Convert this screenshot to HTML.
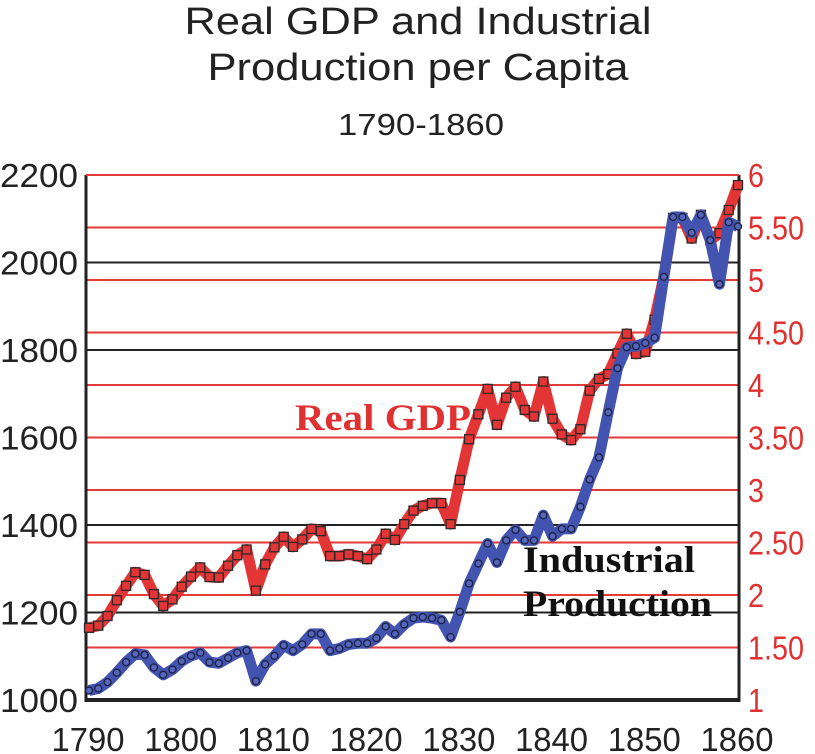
<!DOCTYPE html>
<html><head><meta charset="utf-8"><style>
html,body{margin:0;padding:0;background:#fff;}
svg{display:block;}
</style></head><body>
<svg id="chart" width="815" height="754" viewBox="0 0 815 754" xmlns="http://www.w3.org/2000/svg" font-family="Liberation Sans, sans-serif">
<text x="418" y="34" font-size="38" text-anchor="middle" textLength="467" lengthAdjust="spacingAndGlyphs" fill="#222">Real GDP and Industrial</text>
<text x="418" y="80" font-size="38" text-anchor="middle" textLength="421" lengthAdjust="spacingAndGlyphs" fill="#222">Production per Capita</text>
<text x="421" y="135" font-size="31" text-anchor="middle" textLength="166" lengthAdjust="spacingAndGlyphs" fill="#222">1790-1860</text>
<g id="grid"></g>
<g id="axes"></g>
<g id="series"></g>
<text x="295" y="430" font-family="Liberation Serif, serif" font-weight="bold" font-size="37" fill="#e03030" textLength="176" lengthAdjust="spacingAndGlyphs">Real GDP</text>
<text x="523" y="572" font-family="Liberation Serif, serif" font-weight="bold" font-size="37" fill="#111" textLength="172" lengthAdjust="spacingAndGlyphs">Industrial</text>
<text x="523" y="616" font-family="Liberation Serif, serif" font-weight="bold" font-size="37" fill="#111" textLength="189" lengthAdjust="spacingAndGlyphs">Production</text>
</svg>
<script>
const years = [];
for (let y = 1790; y <= 1860; y++) years.push(y);
const gdpValues = [1165,1170,1192,1228,1261,1292,1286,1242,1215,1230,
1259,1282,1303,1281,1280,1307,1331,1344,1250,1310,
1349,1373,1350,1367,1391,1386,1329,1329,1333,1329,
1322,1344,1380,1366,1402,1433,1444,1450,1450,1402,
1503,1596,1653,1711,1629,1691,1716,1663,1648,1728,
1643,1607,1594,1619,1707,1734,1745,1792,1837,1791,
1796,1869,1968,2102,2102,2055,2109,2051,2067,2120,2177];
const ipValues = [1.09,1.11,1.17,1.26,1.36,1.44,1.43,1.31,1.24,1.29,
1.37,1.42,1.45,1.36,1.35,1.40,1.45,1.47,1.18,1.34,
1.42,1.52,1.47,1.53,1.63,1.63,1.47,1.49,1.53,1.54,
1.54,1.59,1.70,1.63,1.72,1.78,1.79,1.78,1.76,1.60,
1.84,2.11,2.30,2.49,2.31,2.52,2.62,2.52,2.52,2.76,
2.56,2.63,2.63,2.84,3.10,3.31,3.74,4.16,4.36,4.37,
4.40,4.45,5.03,5.60,5.60,5.45,5.62,5.38,4.96,5.55,5.51];
const leftTicks = [1000,1200,1400,1600,1800,2000,2200];
const rightTicks = [1,1.5,2,2.5,3,3.5,4,4.5,5,5.5,6];
const rightTickLabels = ["1","1.50","2","2.50","3","3.50","4","4.50","5","5.50","6"];
const xTicks = [1790,1800,1810,1820,1830,1840,1850,1860];

const NS = "http://www.w3.org/2000/svg";
const X0 = 86, X1 = 739, Y0 = 700, Y1 = 175;
function xs(yr){ return 89 + (yr - 1790) * (738 - 89) / 70; }
function yL(v){ return Y0 - (v - 1000) / 1200 * (Y0 - Y1); }
function yR(v){ return Y0 - (v - 1) / 5 * (Y0 - Y1); }
function mk(tag, attrs, parent){
  const e = document.createElementNS(NS, tag);
  for (const k in attrs) e.setAttribute(k, attrs[k]);
  parent.appendChild(e); return e;
}
const grid = document.getElementById('grid');
const axes = document.getElementById('axes');
const series = document.getElementById('series');

leftTicks.forEach(v => {
  if (v === 1000 || v === 2200) return;
  const l = mk('line', {x1:X0, x2:X1, y1:yL(v), y2:yL(v), stroke:'#222', 'stroke-width':2}, grid);
  
  
});
rightTicks.forEach(v => {
  if (v === 1) return;
  const l = mk('line', {x1:X0, x2:X1, y1:yR(v), y2:yR(v), stroke:'#e33a3a', 'stroke-width':2}, grid);
  
  
});
leftTicks.forEach(v => {
  const t = mk('text', {x:39, y:yL(v)+12, 'font-size':33, 'text-anchor':'middle', textLength:78, lengthAdjust:'spacingAndGlyphs', fill:'#222'}, axes);
  t.textContent = v;
  
  
});
rightTicks.forEach((v, i) => {
  const lbl = rightTickLabels[i];
  const t = mk('text', {x:748, y:yR(v)+12, 'font-size':33, fill:'#e03030'}, axes);
  if (lbl.length > 1) { t.setAttribute('textLength', 56); t.setAttribute('lengthAdjust', 'spacingAndGlyphs'); }
  else { t.setAttribute('textLength', 16); t.setAttribute('lengthAdjust', 'spacingAndGlyphs'); }
  t.textContent = lbl;
  
  
});
xTicks.forEach(v => {
  const t = mk('text', {x:xs(v)-1, y:751, 'font-size':33, 'text-anchor':'middle', textLength:73, lengthAdjust:'spacingAndGlyphs', fill:'#222'}, axes);
  t.textContent = v;
  
  
});
let a = mk('line', {x1:X0, x2:X0, y1:Y1, y2:Y0+2, stroke:'#222', 'stroke-width':3}, axes);
 
a = mk('line', {x1:X1, x2:X1, y1:Y1, y2:Y0+2, stroke:'#222', 'stroke-width':3}, axes);
 
a = mk('line', {x1:X0, x2:X1, y1:Y0, y2:Y0, stroke:'#222', 'stroke-width':4}, axes);
 
a = mk('line', {x1:X0, x2:X1, y1:Y1, y2:Y1, stroke:'#e33a3a', 'stroke-width':2}, axes);
 

const gdpPts = years.map((yr, i) => [xs(yr), yL(gdpValues[i])]);
const ipPts = years.map((yr, i) => [xs(yr), yR(ipValues[i])]);
let p = mk('polyline', {points: gdpPts.map(q => q.join(',')).join(' '), fill:'none', stroke:'#e33535', 'stroke-width':11, 'stroke-linejoin':'round'}, series);
 
gdpPts.forEach(q => {
  const r = mk('rect', {x:q[0]-4.5, y:q[1]-4.5, width:9, height:9, fill:'#e33535', stroke:'#2a2a2a', 'stroke-width':1.3}, series);
   
});
p = mk('polyline', {points: ipPts.map(q => q.join(',')).join(' '), fill:'none', stroke:'#4253b0', 'stroke-width':11, 'stroke-linejoin':'round'}, series);
 
ipPts.forEach(q => {
  const c = mk('circle', {cx:q[0], cy:q[1], r:3.5, fill:'#5566bb', stroke:'#1d2040', 'stroke-width':1.3}, series);
   
});
</script>
</body></html>
